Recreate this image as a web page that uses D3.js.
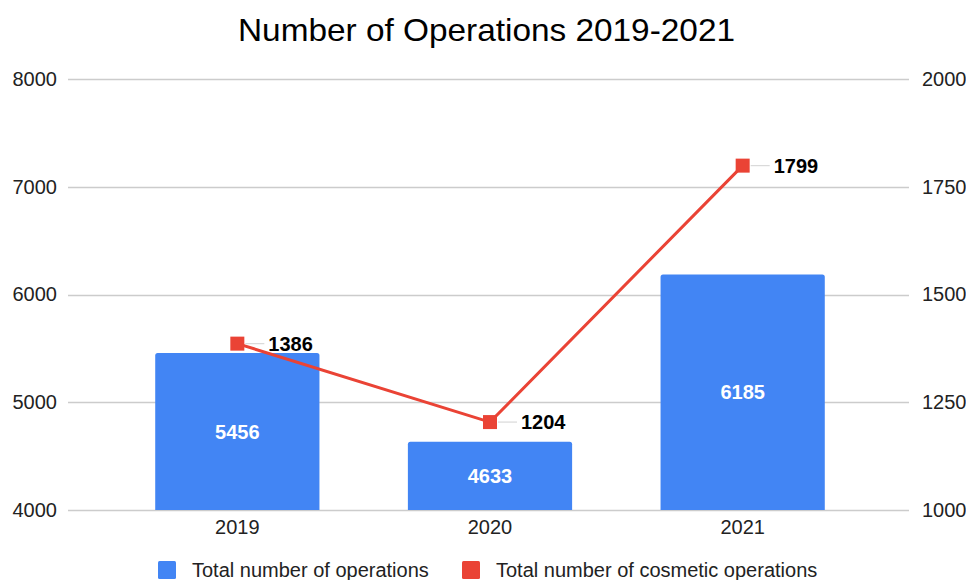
<!DOCTYPE html>
<html>
<head>
<meta charset="utf-8">
<script src="https://cdn.jsdelivr.net/npm/d3@7"></script>
<style>
  html, body { margin: 0; padding: 0; background: #fff; }
  svg { display: block; font-family: "Liberation Sans", Arial, sans-serif; }
</style>
</head>
<body>
<svg id="chart" width="966" height="580"></svg>
<script>
// Chart data
const years = ["2019", "2020", "2021"];
const totalOperations = [5456, 4633, 6185];
const cosmeticOperations = [1386, 1204, 1799];
const leftTicks = [4000, 5000, 6000, 7000, 8000];
const rightTicks = [1000, 1250, 1500, 1750, 2000];
const seriesNames = ["Total number of operations", "Total number of cosmetic operations"];

const BLUE = "#4285f4";
const RED = "#ea4335";

const svg = d3.select("#chart");

const plotLeft = 68, plotRight = 909, plotTop = 79, plotBottom = 510;

const x = d3.scaleBand()
  .domain(years)
  .range([111, 869])
  .paddingInner(0.35)
  .paddingOuter(0.175);

const yLeft = d3.scaleLinear().domain([4000, 8000]).range([plotBottom, plotTop]);
const yRight = d3.scaleLinear().domain([1000, 2000]).range([plotBottom, plotTop]);

// Title
svg.append("text")
  .attr("x", 486.5)
  .attr("y", 41)
  .attr("text-anchor", "middle")
  .attr("font-size", 32)
  .attr("fill", "#000")
  .attr("textLength", 497)
  .attr("lengthAdjust", "spacingAndGlyphs")
  .text("Number of Operations 2019-2021");

// Gridlines
svg.append("g")
  .selectAll("line")
  .data(leftTicks)
  .join("line")
  .attr("x1", plotLeft)
  .attr("x2", plotRight)
  .attr("y1", d => Math.round(yLeft(d)) + 0.5)
  .attr("y2", d => Math.round(yLeft(d)) + 0.5)
  .attr("stroke", "#cccccc")
  .attr("stroke-width", 1.4);

// Left axis
const leftAxis = d3.axisLeft(yLeft).tickValues(leftTicks).tickSize(0).tickPadding(0).tickFormat(d3.format("d"));
const gl = svg.append("g").attr("transform", `translate(57,0)`).call(leftAxis);
gl.select(".domain").remove();
gl.selectAll("text").attr("font-size", 20).attr("fill", "#222").attr("font-family", "Liberation Sans, Arial, sans-serif");

// Right axis
const rightAxis = d3.axisRight(yRight).tickValues(rightTicks).tickSize(0).tickPadding(0).tickFormat(d3.format("d"));
const gr = svg.append("g").attr("transform", `translate(922,0)`).call(rightAxis);
gr.select(".domain").remove();
gr.selectAll("text").attr("font-size", 20).attr("fill", "#222").attr("font-family", "Liberation Sans, Arial, sans-serif");

// Bottom axis
const bottomAxis = d3.axisBottom(x).tickSize(0).tickPadding(0);
const gb = svg.append("g").attr("transform", `translate(0,${plotBottom + 10})`).call(bottomAxis);
gb.select(".domain").remove();
gb.selectAll("text").attr("font-size", 20).attr("fill", "#222").attr("dy", "0.72em").attr("font-family", "Liberation Sans, Arial, sans-serif");

// Bars with lightly rounded top corners
const r = 2.5;
function barPath(x0, y0, w, y1) {
  return `M${x0},${y1}V${y0 + r}Q${x0},${y0} ${x0 + r},${y0}H${x0 + w - r}Q${x0 + w},${y0} ${x0 + w},${y0 + r}V${y1}Z`;
}
const barData = years.map((yr, i) => ({ yr, v: totalOperations[i] }));
svg.append("g")
  .selectAll("path")
  .data(barData)
  .join("path")
  .attr("d", d => barPath(x(d.yr), yLeft(d.v), x.bandwidth(), yLeft(4000)))
  .attr("fill", BLUE);

// Bar value labels
svg.append("g")
  .selectAll("text")
  .data(barData)
  .join("text")
  .attr("x", d => x(d.yr) + x.bandwidth() / 2)
  .attr("y", d => (yLeft(d.v) + yLeft(4000)) / 2)
  .attr("dy", "0.36em")
  .attr("text-anchor", "middle")
  .attr("font-size", 20)
  .attr("font-weight", "bold")
  .attr("fill", "#fff")
  .text(d => d.v);

// Cosmetic operations line
const lineData = years.map((yr, i) => ({ yr, v: cosmeticOperations[i] }));
const cx = d => x(d.yr) + x.bandwidth() / 2;
const line = d3.line().x(cx).y(d => yRight(d.v));
svg.append("path")
  .datum(lineData)
  .attr("d", line)
  .attr("fill", "none")
  .attr("stroke", RED)
  .attr("stroke-width", 3);

// Leader lines to the point labels
svg.append("g")
  .selectAll("line")
  .data(lineData)
  .join("line")
  .attr("x1", d => cx(d) + 8)
  .attr("x2", d => cx(d) + 27)
  .attr("y1", d => yRight(d.v))
  .attr("y2", d => yRight(d.v))
  .attr("stroke", "#d9d9d9")
  .attr("stroke-width", 1.2);

// Square markers
const ms = 14;
svg.append("g")
  .selectAll("rect")
  .data(lineData)
  .join("rect")
  .attr("x", d => cx(d) - ms / 2)
  .attr("y", d => yRight(d.v) - ms / 2)
  .attr("width", ms)
  .attr("height", ms)
  .attr("fill", RED);

// Point value labels
svg.append("g")
  .selectAll("text")
  .data(lineData)
  .join("text")
  .attr("x", d => cx(d) + 31)
  .attr("y", d => yRight(d.v))
  .attr("dy", "0.36em")
  .attr("font-size", 20)
  .attr("font-weight", "bold")
  .attr("fill", "#000")
  .text(d => d.v);

// Legend
const legendItems = [
  { name: seriesNames[0], color: BLUE, x: 158 },
  { name: seriesNames[1], color: RED, x: 462 }
];
const lg = svg.append("g");
lg.selectAll("rect")
  .data(legendItems)
  .join("rect")
  .attr("x", d => d.x)
  .attr("y", 561)
  .attr("width", 18)
  .attr("height", 18)
  .attr("rx", 1.5)
  .attr("fill", d => d.color);
lg.selectAll("text")
  .data(legendItems)
  .join("text")
  .attr("x", d => d.x + 34)
  .attr("y", 577)
  .attr("font-size", 20)
  .attr("fill", "#222")
  .text(d => d.name);
</script>
</body>
</html>
